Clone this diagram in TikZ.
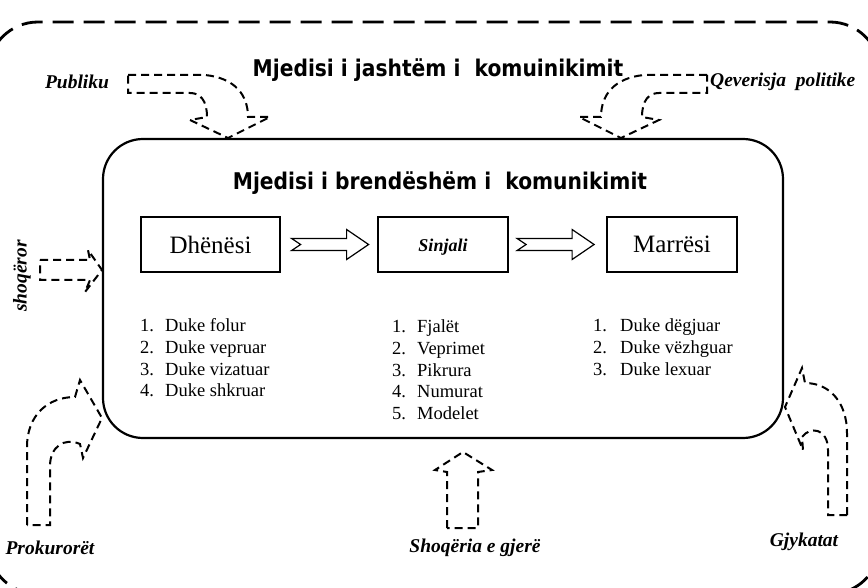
\documentclass[tikz,border=0pt]{standalone}
\usepackage{fontspec}
\setmainfont{Liberation Serif}
\newfontfamily\titlefont{DejaVu Sans}[FakeStretch=0.88]
\usetikzlibrary{calc}
\begin{document}
\begin{tikzpicture}[x=1pt,y=-1pt,
  dsh/.style={line width=2pt, dash pattern=on 8pt off 5pt},
  outerdsh/.style={line width=2.8pt, dash pattern=on 21pt off 10pt},
  barr/.style={line width=1.2pt},
  ttl/.style={font=\titlefont\bfseries\fontsize{23}{27}\selectfont, inner sep=0},
  lab/.style={font=\bfseries\itshape\fontsize{19.5}{22}\selectfont, inner sep=0},
  boxx/.style={draw, line width=1.2pt, minimum width=139pt, minimum height=55pt, inner sep=0},
  lst/.style={font=\fontsize{18.5}{22}\selectfont, inner sep=0, anchor=base west}
]
\useasboundingbox (0,0) rectangle (868,588);
\clip (0,0) rectangle (868,588);
% outer environment
\draw[outerdsh, rounded corners=50pt] (-12,22) rectangle (880,594);
% inner environment
\draw[line width=2.2pt, rounded corners=40pt] (103,139) rectangle (783,438);

\node[ttl] (t1) at (438,70) {Mjedisi i jashtëm i\ \ komuinikimit};
\node[ttl] (t2) at (440,183) {Mjedisi i brendëshëm i\ \ komunikimit};

% boxes
\node[boxx] (d) at (210.5,244.5) {\fontsize{25}{28}\selectfont Dhënësi};
\node[boxx, line width=2.2pt, minimum width=130pt] (s) at (443,244.5) {};
\node[inner sep=0, anchor=base, font=\bfseries\itshape\fontsize{18}{20}\selectfont] (sl) at ($(s.center)+(0,7)$) {Sinjali};
\node[boxx, minimum width=130pt] (m) at (672,244.5) {\fontsize{25}{28}\selectfont Marrësi};

% block arrows between boxes
\draw[barr] ($(d.east)+(11,-6)$) -- ++(55,0) -- ++(0,-9) -- ++(22,15) -- ++(-22,15) -- ++(0,-9) -- ++(-55,0) -- ++(9,-6) -- cycle;
\draw[barr] ($(s.east)+(8,-6)$) -- ++(55,0) -- ++(0,-9) -- ++(22,15) -- ++(-22,15) -- ++(0,-9) -- ++(-55,0) -- ++(9,-6) -- cycle;

% lists
\node[lst] (l1) at (140,331) {\begin{tabular}[t]{@{}p{25pt}@{}l@{}}
1. & Duke folur\\ 2. & Duke vepruar\\ 3. & Duke vizatuar\\ 4. & Duke shkruar\end{tabular}};
\node[lst] (l2) at (392,332) {\begin{tabular}[t]{@{}p{25pt}@{}l@{}}
1. & Fjalët\\ 2. & Veprimet\\ 3. & Pikrura\\ 4. & Numurat\\ 5. & Modelet\end{tabular}};
\node[lst] (l3) at (593,331) {\begin{tabular}[t]{@{}p{27pt}@{}l@{}}
1. & Duke dëgjuar\\ 2. & Duke vëzhguar\\ 3. & Duke lexuar\end{tabular}};

% outside labels
\node[lab] (pub) at (77,82) {Publiku};
\node[lab, anchor=west] (qev) at (710,82) {Qeverisja\ \ politike};
\node[lab, rotate=90] (sho) at (22,276) {shoqëror};
\node[lab] (pro) at (50,548) {Prokurorët};
\node[lab] (gje) at (475,548) {Shoqëria e gjerë};
\node[lab] (gjy) at (804,542) {Gjykatat};

% dashed influence arrows
% Publiku
\draw[dsh] (128,75) -- (205,75) .. controls (235,78) and (248,95) .. (248,117)
  -- (270,117) -- (228,138) -- (190,120) -- (207,117)
  .. controls (207,100) and (200,93) .. (190,93) -- (128,93) -- cycle;
% Qeverisja politike
\draw[dsh] (707,75) -- (644,75) .. controls (614,78) and (601,95) .. (601,117)
  -- (579,117) -- (621,138) -- (659,120) -- (642,117)
  .. controls (642,100) and (649,93) .. (659,93) -- (707,93) -- cycle;
% shoqeror
\draw[dsh] (40,260) -- (90,260) -- (88,250) -- (102,270) -- (85,292) -- (90,280) -- (40,280) -- cycle;
% Prokuroret
\draw[dsh] (27,525) -- (27,447) .. controls (27,415) and (48,397) .. (75,397)
  -- (80,380) -- (102,418) -- (83,458) -- (80,444)
  .. controls (64,437) and (50,447) .. (50,466) -- (50,525) -- cycle;
% Gjykatat
\draw[dsh] (847,515) -- (847,433) .. controls (847,403) and (830,383) .. (805,383)
  -- (802,368) -- (785,407) -- (803,450) -- (802,437)
  .. controls (810,426) and (828,428) .. (828,450) -- (828,515) -- cycle;
% Shoqeria e gjere
\draw[dsh] (447,528) -- (447,472) -- (435,470) -- (463,452) -- (492,470) -- (478,472) -- (478,528) -- cycle;
\end{tikzpicture}
\end{document}
